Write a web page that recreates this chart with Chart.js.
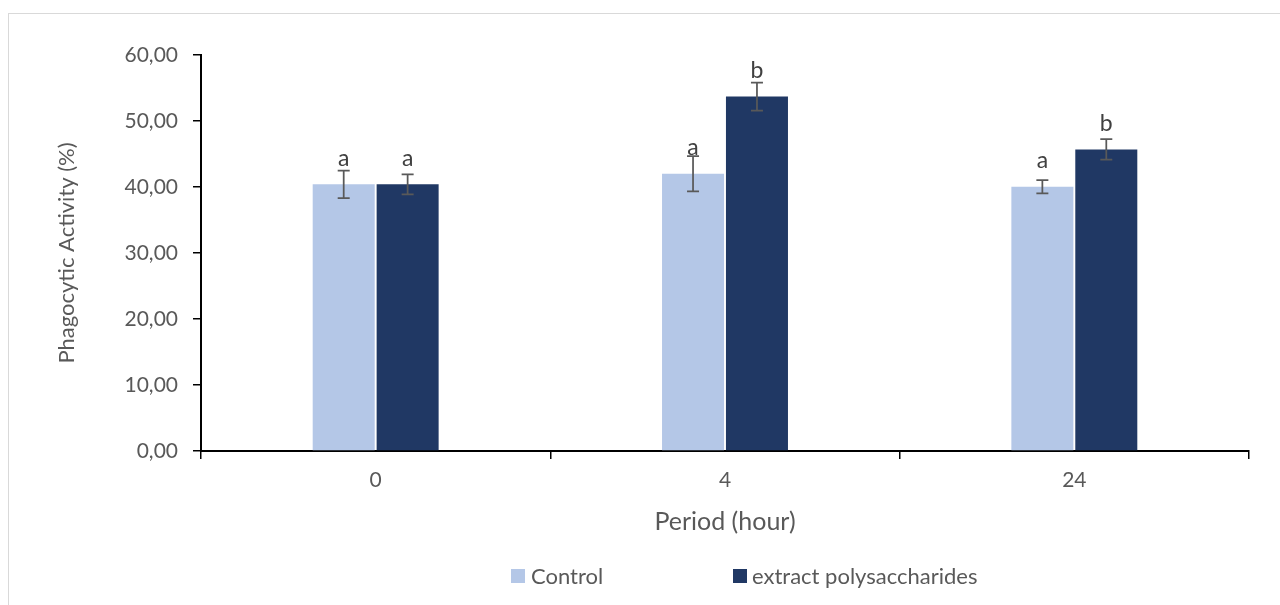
<!DOCTYPE html>
<html>
<head>
<meta charset="utf-8">
<script src="https://cdn.jsdelivr.net/npm/chart.js@4/dist/chart.umd.min.js"></script>
<style>
  html, body { margin: 0; padding: 0; background: #fff; }
  #wrap { position: relative; width: 1280px; height: 605px; overflow: hidden; }
  #frame { position: absolute; left: 8px; top: 13px; width: 1400px; height: 800px; border: 1px solid #d9d9d9; box-sizing: border-box; }
  canvas { position: absolute; left: 0; top: 0; }
</style>
</head>
<body>
<div id="wrap">
  <div id="frame"></div>
  <canvas id="c" width="1280" height="605"></canvas>
</div>
<script>
const categories = ['0', '4', '24'];
const seriesNames = ['Control', 'extract polysaccharides'];
const controlValues = [40.4, 42.0, 40.05];
const extractValues = [40.4, 53.7, 45.7];
const controlErrors = [2.07, 2.68, 1.0];
const extractErrors = [1.5, 2.12, 1.57];
const controlLetters = ['a', 'a', 'a'];
const extractLetters = ['a', 'b', 'b'];
const yTicksMin = 0, yTicksMax = 60, yTickStep = 10;

const FONT = 'Lato, "Open Sans", sans-serif';
const TEXT = '#595959';
const colors = ['#B4C7E7', '#203864'];

const errorBarPlugin = {
  id: 'errorBars',
  afterDatasetsDraw(chart) {
    const ctx = chart.ctx;
    const yScale = chart.scales.y;
    const errs = [controlErrors, extractErrors];
    const letters = [controlLetters, extractLetters];
    chart.data.datasets.forEach((ds, i) => {
      const meta = chart.getDatasetMeta(i);
      meta.data.forEach((bar, j) => {
        const v = ds.data[j];
        const e = errs[i][j];
        const yTop = yScale.getPixelForValue(v + e);
        const yBot = yScale.getPixelForValue(v - e);
        const x = bar.x;
        ctx.save();
        ctx.strokeStyle = '#595959';
        ctx.lineWidth = 1.75;
        ctx.beginPath();
        ctx.moveTo(x, yTop); ctx.lineTo(x, yBot);
        ctx.moveTo(x - 6, yTop); ctx.lineTo(x + 6, yTop);
        ctx.moveTo(x - 6, yBot); ctx.lineTo(x + 6, yBot);
        ctx.stroke();
        ctx.restore();
      });
    });
    chart.data.datasets.forEach((ds, i) => {
      const meta = chart.getDatasetMeta(i);
      meta.data.forEach((bar, j) => {
        ctx.save();
        ctx.fillStyle = '#404040';
        ctx.font = '23px ' + FONT;
        ctx.textAlign = 'center';
        ctx.textBaseline = 'alphabetic';
        ctx.fillText(letters[i][j], bar.x, bar.y - 18.5);
        ctx.restore();
      });
    });
  }
};

const legendPlugin = {
  id: 'customLegend',
  afterDraw(chart) {
    const ctx = chart.ctx;
    const items = [
      { box: 511, text: 531 },
      { box: 733, text: 752 }
    ];
    ctx.save();
    ctx.font = '22px ' + FONT;
    ctx.textBaseline = 'middle';
    ctx.textAlign = 'left';
    items.forEach((it, i) => {
      ctx.fillStyle = colors[i];
      ctx.fillRect(it.box, 569, 14, 14);
      ctx.fillStyle = TEXT;
      ctx.fillText(seriesNames[i], it.text, 577);
    });
    ctx.restore();
  }
};

new Chart(document.getElementById('c'), {
  type: 'bar',
  data: {
    labels: categories,
    datasets: [
      { label: seriesNames[0], data: controlValues, backgroundColor: colors[0], categoryPercentage: 0.366, barPercentage: 0.97 },
      { label: seriesNames[1], data: extractValues, backgroundColor: colors[1], categoryPercentage: 0.366, barPercentage: 0.97 }
    ]
  },
  options: {
    responsive: false,
    animation: false,
    layout: { padding: { left: 54, right: 31, top: 55, bottom: 68 } },
    plugins: {
      legend: { display: false },
      tooltip: { enabled: false }
    },
    scales: {
      x: {
        afterFit(scale) { scale.height = 86; },
        grid: { display: true, drawOnChartArea: false, drawTicks: true, tickLength: 8, color: '#000', lineWidth: 1.5, offset: true },
        border: { display: true, color: '#000', width: 2 },
        ticks: { color: TEXT, font: { family: FONT, size: 21 }, padding: 9 },
        title: { display: true, text: 'Period (hour)', color: TEXT, font: { family: FONT, size: 25 }, padding: { top: 0, bottom: 0 } }
      },
      y: {
        min: yTicksMin, max: yTicksMax,
        afterFit(scale) { scale.width = 147; },
        grid: { display: true, drawOnChartArea: false, drawTicks: true, tickLength: 8, color: '#000', lineWidth: 1.5 },
        border: { display: true, color: '#000', width: 2 },
        ticks: {
          stepSize: yTickStep, color: TEXT, font: { family: FONT, size: 21 }, padding: 15,
          callback: (v) => v.toFixed(2).replace('.', ',')
        },
        title: { display: true, text: 'Phagocytic Activity (%)', color: TEXT, font: { family: FONT, size: 22 }, padding: { top: 0, bottom: 0 } }
      }
    }
  },
  plugins: [errorBarPlugin, legendPlugin]
});
</script>
</body>
</html>
